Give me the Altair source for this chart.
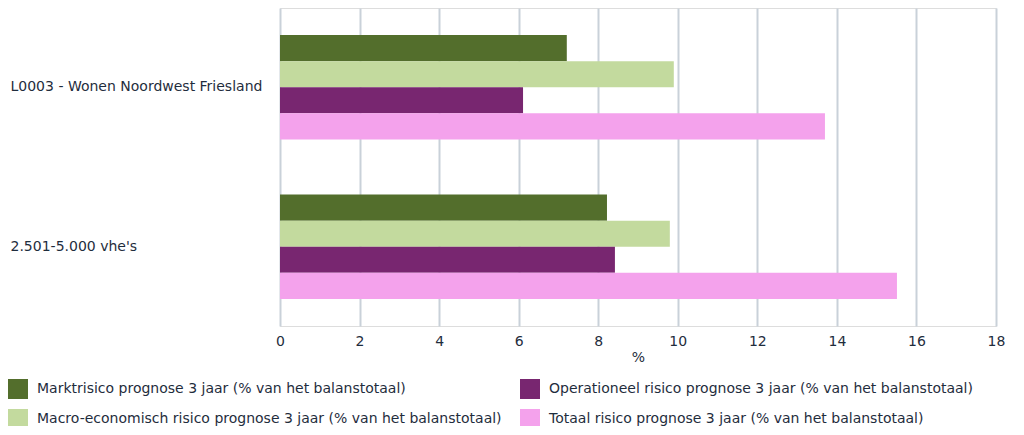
import altair as alt
import pandas as pd

categories = ["L0003 - Wonen Noordwest Friesland", "2.501-5.000 vhe's"]
series = [
    "Marktrisico prognose 3 jaar (% van het balanstotaal)",
    "Macro-economisch risico prognose 3 jaar (% van het balanstotaal)",
    "Operationeel risico prognose 3 jaar (% van het balanstotaal)",
    "Totaal risico prognose 3 jaar (% van het balanstotaal)",
]
markt = [7.21, 8.22]
macro = [9.90, 9.80]
operationeel = [6.11, 8.42]
totaal = [13.70, 15.51]
colors = ["#536E2C", "#C3DA9E", "#782670", "#F4A2EC"]

rows = []
for i, c in enumerate(categories):
    for s, vals in zip(series, [markt, macro, operationeel, totaal]):
        rows.append({"cat": c, "series": s, "value": vals[i]})
df = pd.DataFrame(rows)

txt = "#1F2D3D"
chart = (
    alt.Chart(df)
    .mark_bar()
    .encode(
        x=alt.X(
            "value:Q",
            title="%",
            scale=alt.Scale(domain=[0, 18], nice=False),
            axis=alt.Axis(
                values=list(range(0, 19, 2)),
                tickSize=0,
                domain=False,
                labelFlush=False,
                labelPadding=8,
                labelFont="DejaVu Sans",
                labelFontSize=14,
                labelColor=txt,
                titleFont="DejaVu Sans",
                titleFontSize=14,
                titleFontWeight="normal",
                titleColor=txt,
                titlePadding=2,
                gridColor="#C9D1D9",
                gridWidth=2,
            ),
        ),
        y=alt.Y(
            "cat:N",
            title=None,
            sort=categories,
            scale=alt.Scale(paddingInner=0.346, paddingOuter=0.17),
            axis=alt.Axis(
                tickSize=0,
                domain=False,
                labelAlign="left",
                labelPadding=270,
                labelFont="DejaVu Sans",
                labelFontSize=14,
                labelColor=txt,
                labelLimit=300,
            ),
        ),
        yOffset=alt.YOffset("series:N", sort=series),
        color=alt.Color(
            "series:N",
            scale=alt.Scale(domain=series, range=colors),
            legend=alt.Legend(
                title=None,
                orient="none",
                legendX=-272,
                legendY=371,
                columns=2,
                symbolType="square",
                symbolSize=400,
                symbolStrokeWidth=0,
                rowPadding=10,
                columnPadding=18,
                labelOffset=9,
                labelFont="DejaVu Sans",
                labelFontSize=14,
                labelColor=txt,
                labelLimit=600,
            ),
        ),
    )
    .properties(
        width=716,
        height=318,
        autosize=alt.AutoSizeParams(type="none"),
        padding={"left": 272, "top": 0, "right": 20, "bottom": 100},
    )
    .configure_view(stroke="#C0C8D0", strokeWidth=1)
    .configure(background="white")
)

chart.save("out.html", embed_options={"renderer": "svg", "actions": False})
